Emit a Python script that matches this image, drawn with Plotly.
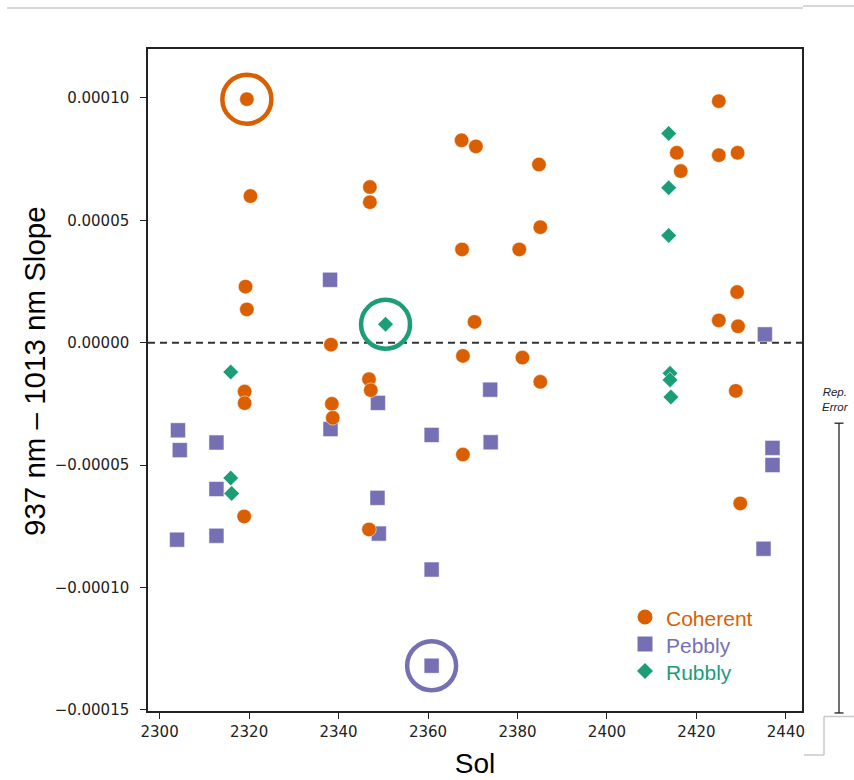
import plotly.graph_objects as go

# ---------------- data ----------------
coherent_sol = [2319.5, 2320.3, 2319.2, 2319.5, 2319.0, 2319.0, 2318.9,
                2338.3, 2346.8, 2347.2, 2338.5, 2338.7, 2346.8, 2347.0, 2347.0,
                2367.5, 2370.7, 2384.8, 2385.1, 2367.6, 2380.4, 2370.4, 2367.8,
                2381.1, 2385.1, 2367.8,
                2425.0, 2415.6, 2425.0, 2429.2, 2416.5, 2429.1, 2425.0, 2429.3,
                2428.8, 2429.8]
coherent_slope = [0.0000995, 0.0000599, 0.0000229, 0.0000136, -0.0000200, -0.0000247, -0.0000710,
                  -0.0000008, -0.0000149, -0.0000194, -0.0000250, -0.0000307, -0.0000763, 0.0000636, 0.0000574,
                  0.0000827, 0.0000802, 0.0000728, 0.0000472, 0.0000381, 0.0000381, 0.0000085, -0.0000054,
                  -0.0000061, -0.0000160, -0.0000457,
                  0.0000987, 0.0000776, 0.0000766, 0.0000776, 0.0000701, 0.0000207, 0.0000091, 0.0000067,
                  -0.0000197, -0.0000657]

pebbly_sol = [2304.1, 2304.5, 2312.7, 2312.7, 2303.9, 2312.7,
              2338.1, 2348.8, 2338.2, 2360.8, 2348.7, 2349.0, 2360.8, 2360.8,
              2373.9, 2374.0, 2435.3, 2437.0, 2437.0, 2435.0]
pebbly_slope = [-0.0000358, -0.0000439, -0.0000408, -0.0000598, -0.0000805, -0.0000789,
                0.0000257, -0.0000246, -0.0000353, -0.0000377, -0.0000634, -0.0000780, -0.0000927, -0.0001320,
                -0.0000192, -0.0000407, 0.0000034, -0.0000430, -0.0000500, -0.0000842]

rubbly_sol = [2315.9, 2315.9, 2316.1, 2350.5, 2413.8, 2413.8, 2413.8, 2414.1, 2414.1, 2414.3]
rubbly_slope = [-0.0000120, -0.0000553, -0.0000616, 0.0000075, 0.0000855, 0.0000633, 0.0000438,
                -0.0000125, -0.0000152, -0.0000222]

# highlighted samples (index into the series above)
highlight_coherent = 0
highlight_pebbly = 13
highlight_rubbly = 3

rep_error_lo = -0.0001513
rep_error_hi = -0.0000329

categories = ["Coherent", "Pebbly", "Rubbly"]

x_ticks = [2300, 2320, 2340, 2360, 2380, 2400, 2420, 2440]
y_ticks = [-0.00015, -0.00010, -0.00005, 0.0, 0.00005, 0.00010]
y_ticktext = ["\u22120.00015", "\u22120.00010", "\u22120.00005", "0.00000", "0.00005", "0.00010"]

x_range = [2297.4, 2443.6]
y_range = [-0.0001505, 0.00012]

ORANGE = "#d95f02"
PURPLE = "#7570b3"
GREEN = "#1b9e77"
colors = {"Coherent": ORANGE, "Pebbly": PURPLE, "Rubbly": GREEN}

# ---------------- figure ----------------
fig = go.Figure()

fig.add_trace(go.Scatter(
    x=pebbly_sol, y=pebbly_slope, mode="markers", name="Pebbly", showlegend=False,
    marker=dict(symbol="square", size=15, color=PURPLE, line=dict(color="white", width=0.5)),
))
fig.add_trace(go.Scatter(
    x=rubbly_sol, y=rubbly_slope, mode="markers", name="Rubbly", showlegend=False,
    marker=dict(symbol="diamond", size=12, color=GREEN, line=dict(color="white", width=0.5)),
))
fig.add_trace(go.Scatter(
    x=coherent_sol, y=coherent_slope, mode="markers", name="Coherent", showlegend=False,
    marker=dict(symbol="circle", size=14.5, color=ORANGE, line=dict(color="white", width=0.5)),
))

# highlight rings
for xs, ys, idx, col in [(coherent_sol, coherent_slope, highlight_coherent, ORANGE),
                         (rubbly_sol, rubbly_slope, highlight_rubbly, GREEN),
                         (pebbly_sol, pebbly_slope, highlight_pebbly, PURPLE)]:
    fig.add_trace(go.Scatter(
        x=[xs[idx]], y=[ys[idx]], mode="markers", showlegend=False, hoverinfo="skip",
        marker=dict(symbol="circle-open", size=49, color=col, line=dict(color=col, width=4.5)),
    ))

# zero line
fig.add_shape(type="line", xref="paper", yref="y", x0=0, x1=1, y0=0, y1=0,
              line=dict(color="#333333", width=2, dash="7px,5px"), layer="below")

# ---- geometry helpers for decorations outside / on top of the plot ----
L, R, T, B = 148, 52, 49, 69
W, H = 854, 780
pw, ph = W - L - R, H - T - B


def px2x(px):
    return (px - L) / pw


def py2y(py):
    return (H - B - py) / ph


def v2y(v):
    return (v - y_range[0]) / (y_range[1] - y_range[0])


# manual legend (coloured labels)
leg_x, leg_y0, leg_dy = 645, 617, 27
for i, cat in enumerate(categories):
    cy = leg_y0 + i * leg_dy
    col = colors[cat]
    if cat == "Coherent":
        fig.add_shape(type="circle", xref="paper", yref="paper",
                      x0=px2x(leg_x - 7.5), x1=px2x(leg_x + 7.5), y0=py2y(cy + 7.5), y1=py2y(cy - 7.5),
                      fillcolor=col, line=dict(width=0))
    elif cat == "Pebbly":
        fig.add_shape(type="rect", xref="paper", yref="paper",
                      x0=px2x(leg_x - 7.5), x1=px2x(leg_x + 7.5), y0=py2y(cy + 7.5), y1=py2y(cy - 7.5),
                      fillcolor=col, line=dict(width=0))
    else:
        d = 8
        path = (f"M {px2x(leg_x - d)} {py2y(cy)} L {px2x(leg_x)} {py2y(cy - d)} "
                f"L {px2x(leg_x + d)} {py2y(cy)} L {px2x(leg_x)} {py2y(cy + d)} Z")
        fig.add_shape(type="path", xref="paper", yref="paper", path=path,
                      fillcolor=col, line=dict(width=0))
    fig.add_annotation(xref="paper", yref="paper", x=px2x(664), y=py2y(cy + 1), xanchor="left", yanchor="middle",
                       text=cat, showarrow=False,
                       font=dict(family="Liberation Sans, Arial", size=21, color=col))

# representative error bar
ex = px2x(839)
cap = 4.5 / pw
ey0, ey1 = v2y(rep_error_lo), v2y(rep_error_hi)
for sh in [dict(x0=ex, x1=ex, y0=ey0, y1=ey1),
           dict(x0=ex - cap, x1=ex + cap, y0=ey0, y1=ey0),
           dict(x0=ex - cap, x1=ex + cap, y0=ey1, y1=ey1)]:
    fig.add_shape(type="line", xref="paper", yref="paper", line=dict(color="#222222", width=1.3), **sh)
fig.add_annotation(xref="paper", yref="paper", x=px2x(835), y=py2y(415), xanchor="center", yanchor="bottom",
                   text="<i>Rep.<br>Error</i>", showarrow=False,
                   font=dict(family="Liberation Sans, Arial", size=11.5, color="#222222"))

# y axis title
fig.add_annotation(xref="paper", yref="paper", x=px2x(35), y=py2y(371), xanchor="center", yanchor="middle",
                   text="937 nm \u2013 1013 nm Slope", textangle=-90, showarrow=False,
                   font=dict(family="Liberation Sans, Arial", size=29.5, color="black"))

# faint screenshot borders
for (x0, y0, x1, y1) in [(7, 8, 803, 8), (803, 6, 854, 6), (824, 716.5, 854, 716.5),
                         (824, 716.5, 824, 755), (804, 755, 824, 755)]:
    fig.add_shape(type="line", xref="paper", yref="paper",
                  x0=px2x(x0), x1=px2x(x1), y0=py2y(y0), y1=py2y(y1),
                  line=dict(color="#c8c8c8", width=1.5))

fig.update_layout(
    width=W, height=H,
    margin=dict(l=L, r=R, t=T, b=B, autoexpand=False),
    paper_bgcolor="white", plot_bgcolor="white",
    showlegend=False,
)

tick_font = dict(family="DejaVu Sans", size=15, color="#222222")
fig.update_xaxes(
    range=x_range, tickvals=x_ticks, ticktext=[str(t) for t in x_ticks],
    ticks="outside", ticklen=6, tickwidth=1.2, tickcolor="#222222",
    showline=True, linecolor="#222222", linewidth=1.5, mirror=True,
    showgrid=False, zeroline=False, tickfont=tick_font, automargin=False,
    title=dict(text="Sol", font=dict(family="Liberation Sans, Arial", size=28, color="black"), standoff=14),
)
fig.update_yaxes(
    range=y_range, tickvals=y_ticks, ticktext=y_ticktext,
    ticks="outside", ticklen=6, tickwidth=1.2, tickcolor="#222222", ticklabelstandoff=8,
    showline=True, linecolor="#222222", linewidth=1.5, mirror=True,
    showgrid=False, zeroline=False, tickfont=tick_font, automargin=False,
)

fig.write_html("out.html")
